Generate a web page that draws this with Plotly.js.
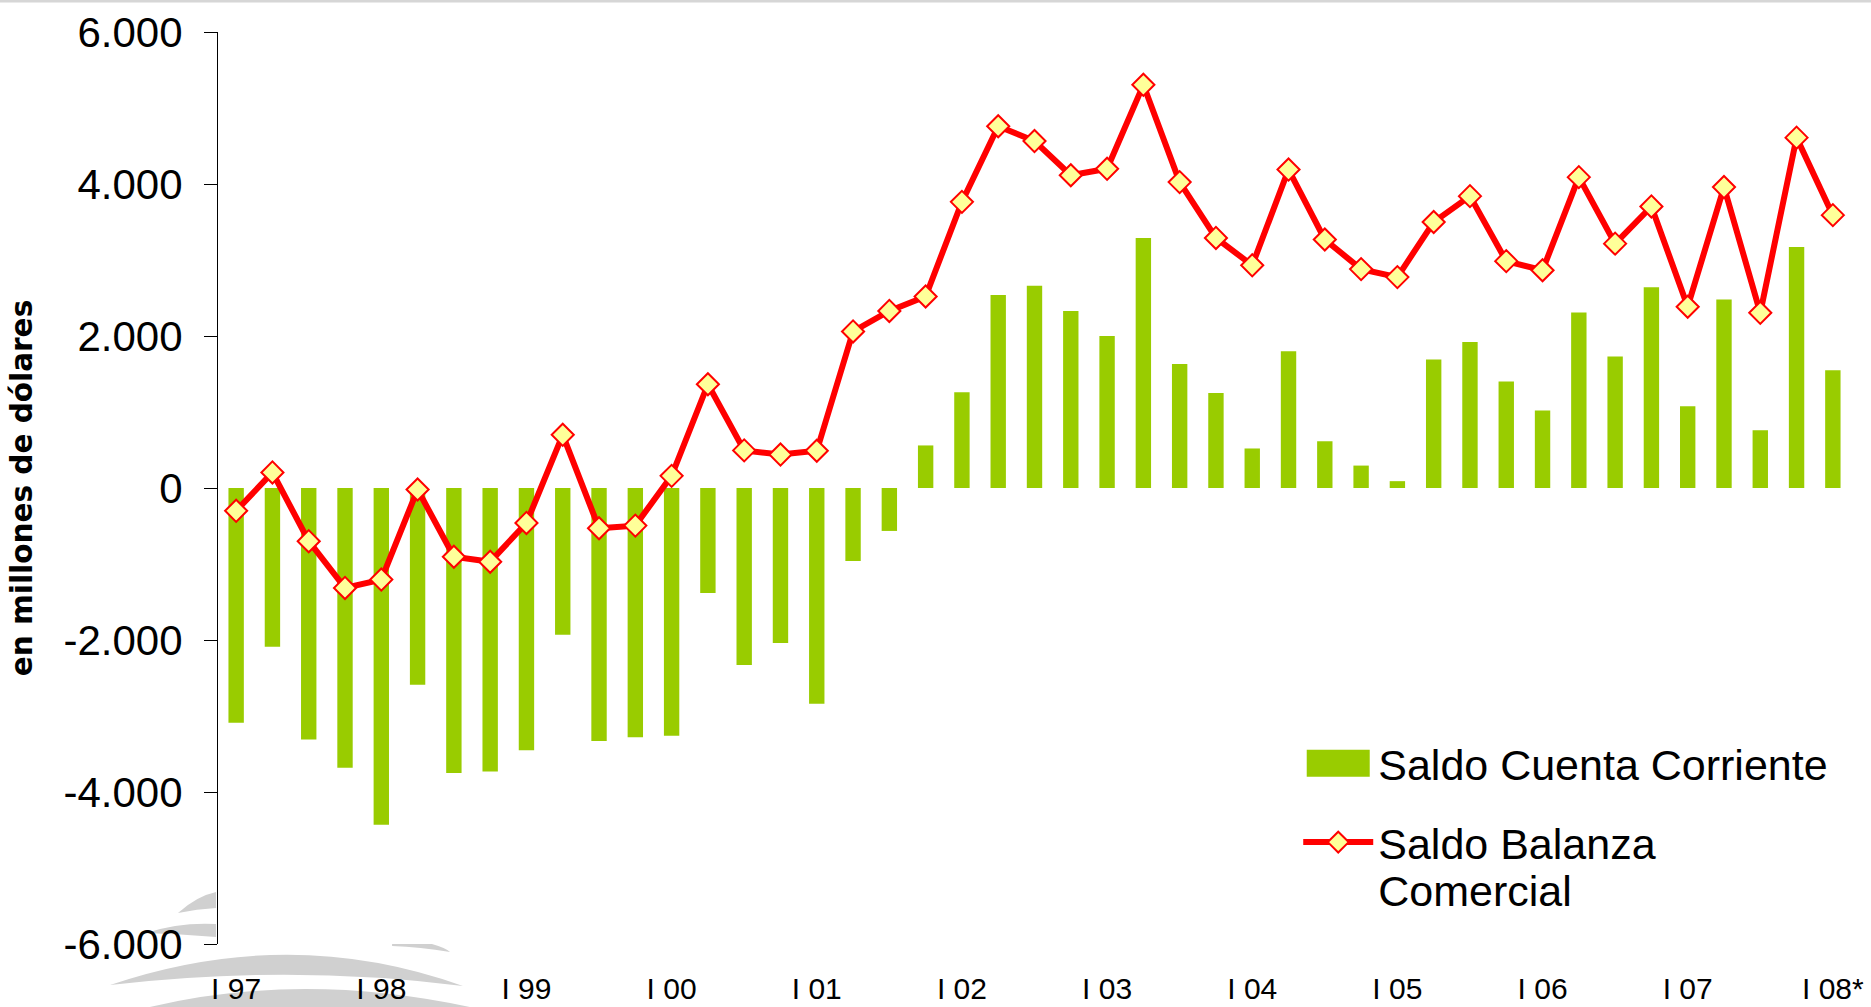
<!DOCTYPE html>
<html>
<head>
<meta charset="utf-8">
<script src="https://cdn.plot.ly/plotly-3.0.1.min.js"></script>
<style>
html,body{margin:0;padding:0;background:#fff;overflow:hidden}
#chart{width:1871px;height:1007px}
</style>
</head>
<body>
<div id="chart"></div>
<script>
// ---- Datos (millones de dólares, trimestral) ----
const periodos = [
  "I 97","II 97","III 97","IV 97",
  "I 98","II 98","III 98","IV 98",
  "I 99","II 99","III 99","IV 99",
  "I 00","II 00","III 00","IV 00",
  "I 01","II 01","III 01","IV 01",
  "I 02","II 02","III 02","IV 02",
  "I 03","II 03","III 03","IV 03",
  "I 04","II 04","III 04","IV 04",
  "I 05","II 05","III 05","IV 05",
  "I 06","II 06","III 06","IV 06",
  "I 07","II 07","III 07","IV 07",
  "I 08*"
];
const cuentaCorriente = [
  -3090, -2090, -3310, -3680,
  -4430, -2590, -3750, -3730,
  -3450, -1930, -3330, -3280,
  -3260, -1380, -2330, -2040,
  -2840,  -960,  -565,   560,
   1260,  2540,  2660,  2330,
   2000,  3290,  1630,  1250,
    520,  1800,   615,   295,
     90,  1690,  1920,  1400,
   1020,  2310,  1730,  2640,
   1075,  2480,   760,  3170,
   1550
];
const balanzaComercial = [
   -300,   205,  -700, -1315,
  -1205,   -20,  -905,  -970,
   -460,   700,  -530,  -495,
    160,  1365,   495,   440,
    490,  2060,  2330,  2520,
   3765,  4760,  4565,  4115,
   4200,  5305,  4025,  3290,
   2930,  4190,  3270,  2880,
   2775,  3500,  3840,  2985,
   2865,  4090,  3215,  3705,
   2385,  3960,  2305,  4610,
   3590
];
const etiquetasX = ["I 97","I 98","I 99","I 00","I 01","I 02","I 03","I 04","I 05","I 06","I 07","I 08*"];
const valoresY = [-6000, -4000, -2000, 0, 2000, 4000, 6000];
const textosY  = ["-6.000", "-4.000", "-2.000", "0", "2.000", "4.000", "6.000"];
const nombreCC = "Saldo Cuenta Corriente";
const nombreBC = "Saldo Balanza<br>Comercial";
const tituloY  = "en millones de dólares";

// tick marks on the zero line: boundaries before each first quarter
const bordes = etiquetasX.map(l => periodos.indexOf(l) - 0.5);

// ---- decoration geometry (pixel -> paper) ----
const PL = 218, PT = 32, PW = 1633, PH = 912;
function toPaper(path) {
  return path.replace(/(-?\d+(?:\.\d+)?),(-?\d+(?:\.\d+)?)/g, function (m, a, b) {
    return ((+a - PL) / PW).toFixed(4) + "," + ((PT + PH - +b) / PH).toFixed(4);
  });
}
const marcaAgua = [
  "M178,913 Q197,896 216,892 L216,908 Q197,909 178,913 Z",
  "M146,933 Q180,922 216,924 L216,937 Q180,934 146,933 Z",
  "M392,944 L432,944 Q446,948 450,952 Q420,947 392,946 Z",
  "M110,985 Q290,924 463,986 Q290,964 110,985 Z",
  "M130,1012 Q300,966 492,1012 Z"
];
const shapes = marcaAgua.map(p => ({
  type: "path", xref: "paper", yref: "paper", path: toPaper(p),
  fillcolor: "#d0d0d0", line: {width: 0}, layer: "below"
}));
shapes.push({
  type: "rect", xref: "paper", yref: "paper",
  x0: (0 - PL) / PW, x1: (1871 - PL) / PW,
  y0: (PT + PH - 2.5) / PH, y1: (PT + PH + 2) / PH,
  fillcolor: "#d6d6d6", line: {width: 0}, layer: "below"
});

const trazas = [
  {
    type: "bar", x: periodos, y: cuentaCorriente, name: nombreCC,
    marker: {color: "#99CC00", line: {width: 0}},
    legendgroup: "cc", hoverinfo: "x+y"
  },
  {
    type: "scatter", mode: "lines+markers", x: periodos, y: balanzaComercial, name: nombreBC,
    line: {color: "#FF0000", width: 6},
    marker: {symbol: "diamond", size: 17, color: "#FFFF99", line: {color: "#FF0000", width: 2}},
    legendgroup: "bc", hoverinfo: "x+y"
  }
];

const layout = {
  width: 1871, height: 1007,
  margin: {l: PL, r: 20, t: PT, b: 1007 - PT - PH, pad: 0},
  paper_bgcolor: "#ffffff", plot_bgcolor: "rgba(0,0,0,0)",
  font: {family: '"Liberation Sans", Arial, sans-serif', color: "#000000"},
  bargap: 0.576,
  showlegend: true,
  legend: {
    x: 0.6615, y: 0.236, xanchor: "left", yanchor: "top",
    bgcolor: "rgba(0,0,0,0)", borderwidth: 0,
    font: {size: 43, color: "#000000"},
    itemwidth: 70, valign: "top", tracegroupgap: 20, itemsizing: "trace"
  },
  xaxis: {
    type: "category", range: [-0.5, periodos.length - 0.5],
    tickmode: "array", tickvals: etiquetasX, ticktext: etiquetasX,
    ticks: "", showline: false, showgrid: false, zeroline: false,
    tickfont: {size: 30, color: "#000000"}, ticklabelstandoff: 24, fixedrange: true
  },
  xaxis2: {
    overlaying: "x", anchor: "free", position: 0.5, side: "bottom",
    type: "linear", range: [-0.5, periodos.length - 0.5],
    tickmode: "array", tickvals: bordes, showticklabels: false,
    ticks: "outside", ticklen: 10, tickwidth: 1.5, tickcolor: "#333333",
    showline: true, linecolor: "#808080", linewidth: 2.5,
    showgrid: false, zeroline: false, layer: "below traces", fixedrange: true
  },
  yaxis: {
    range: [-6000, 6000], tickmode: "array", tickvals: valoresY, ticktext: textosY,
    ticks: "outside", ticklen: 13, tickwidth: 1, tickcolor: "#000000",
    showline: true, linecolor: "#000000", linewidth: 1,
    showgrid: false, zeroline: false, fixedrange: true,
    tickfont: {size: 42, color: "#000000"}, ticklabelstandoff: 13,
    title: {
      text: tituloY, standoff: 22,
      font: {family: '"DejaVu Sans", Verdana, sans-serif', size: 29.5, weight: "bold", color: "#000000"}
    }
  },
  shapes: shapes
};

function ajustarLeyenda() {
  document.querySelectorAll(".legend .traces").forEach(function (g) {
    const d = g.__data__;
    let tr = null;
    if (d && d[0]) tr = d[0].trace || (d[0][0] && d[0][0].trace);
    if (tr && tr.type === "bar") {
      g.querySelectorAll(".legendpoints path").forEach(function (p) {
        p.setAttribute("d", "M31.5,13.5H-31.5V-13.5H31.5Z");
      });
    }
    // tighter line spacing for the two-line legend label
    const lines = g.querySelectorAll("text.legendtext tspan.line");
    lines.forEach(function (t, i) {
      if (i === 0 || t.dataset.ajustado) return;
      const dy = t.getAttribute("dy");
      if (dy && /em$/.test(dy)) {
        t.setAttribute("dy", (parseFloat(dy) * 1.1 / 1.3).toFixed(3) + "em");
        t.dataset.ajustado = "1";
      }
    });
  });
}

const gd = document.getElementById("chart");
Plotly.newPlot(gd, trazas, layout, {displayModeBar: false, staticPlot: false}).then(function () {
  ajustarLeyenda();
  gd.on("plotly_afterplot", ajustarLeyenda);
});
</script>
</body>
</html>
